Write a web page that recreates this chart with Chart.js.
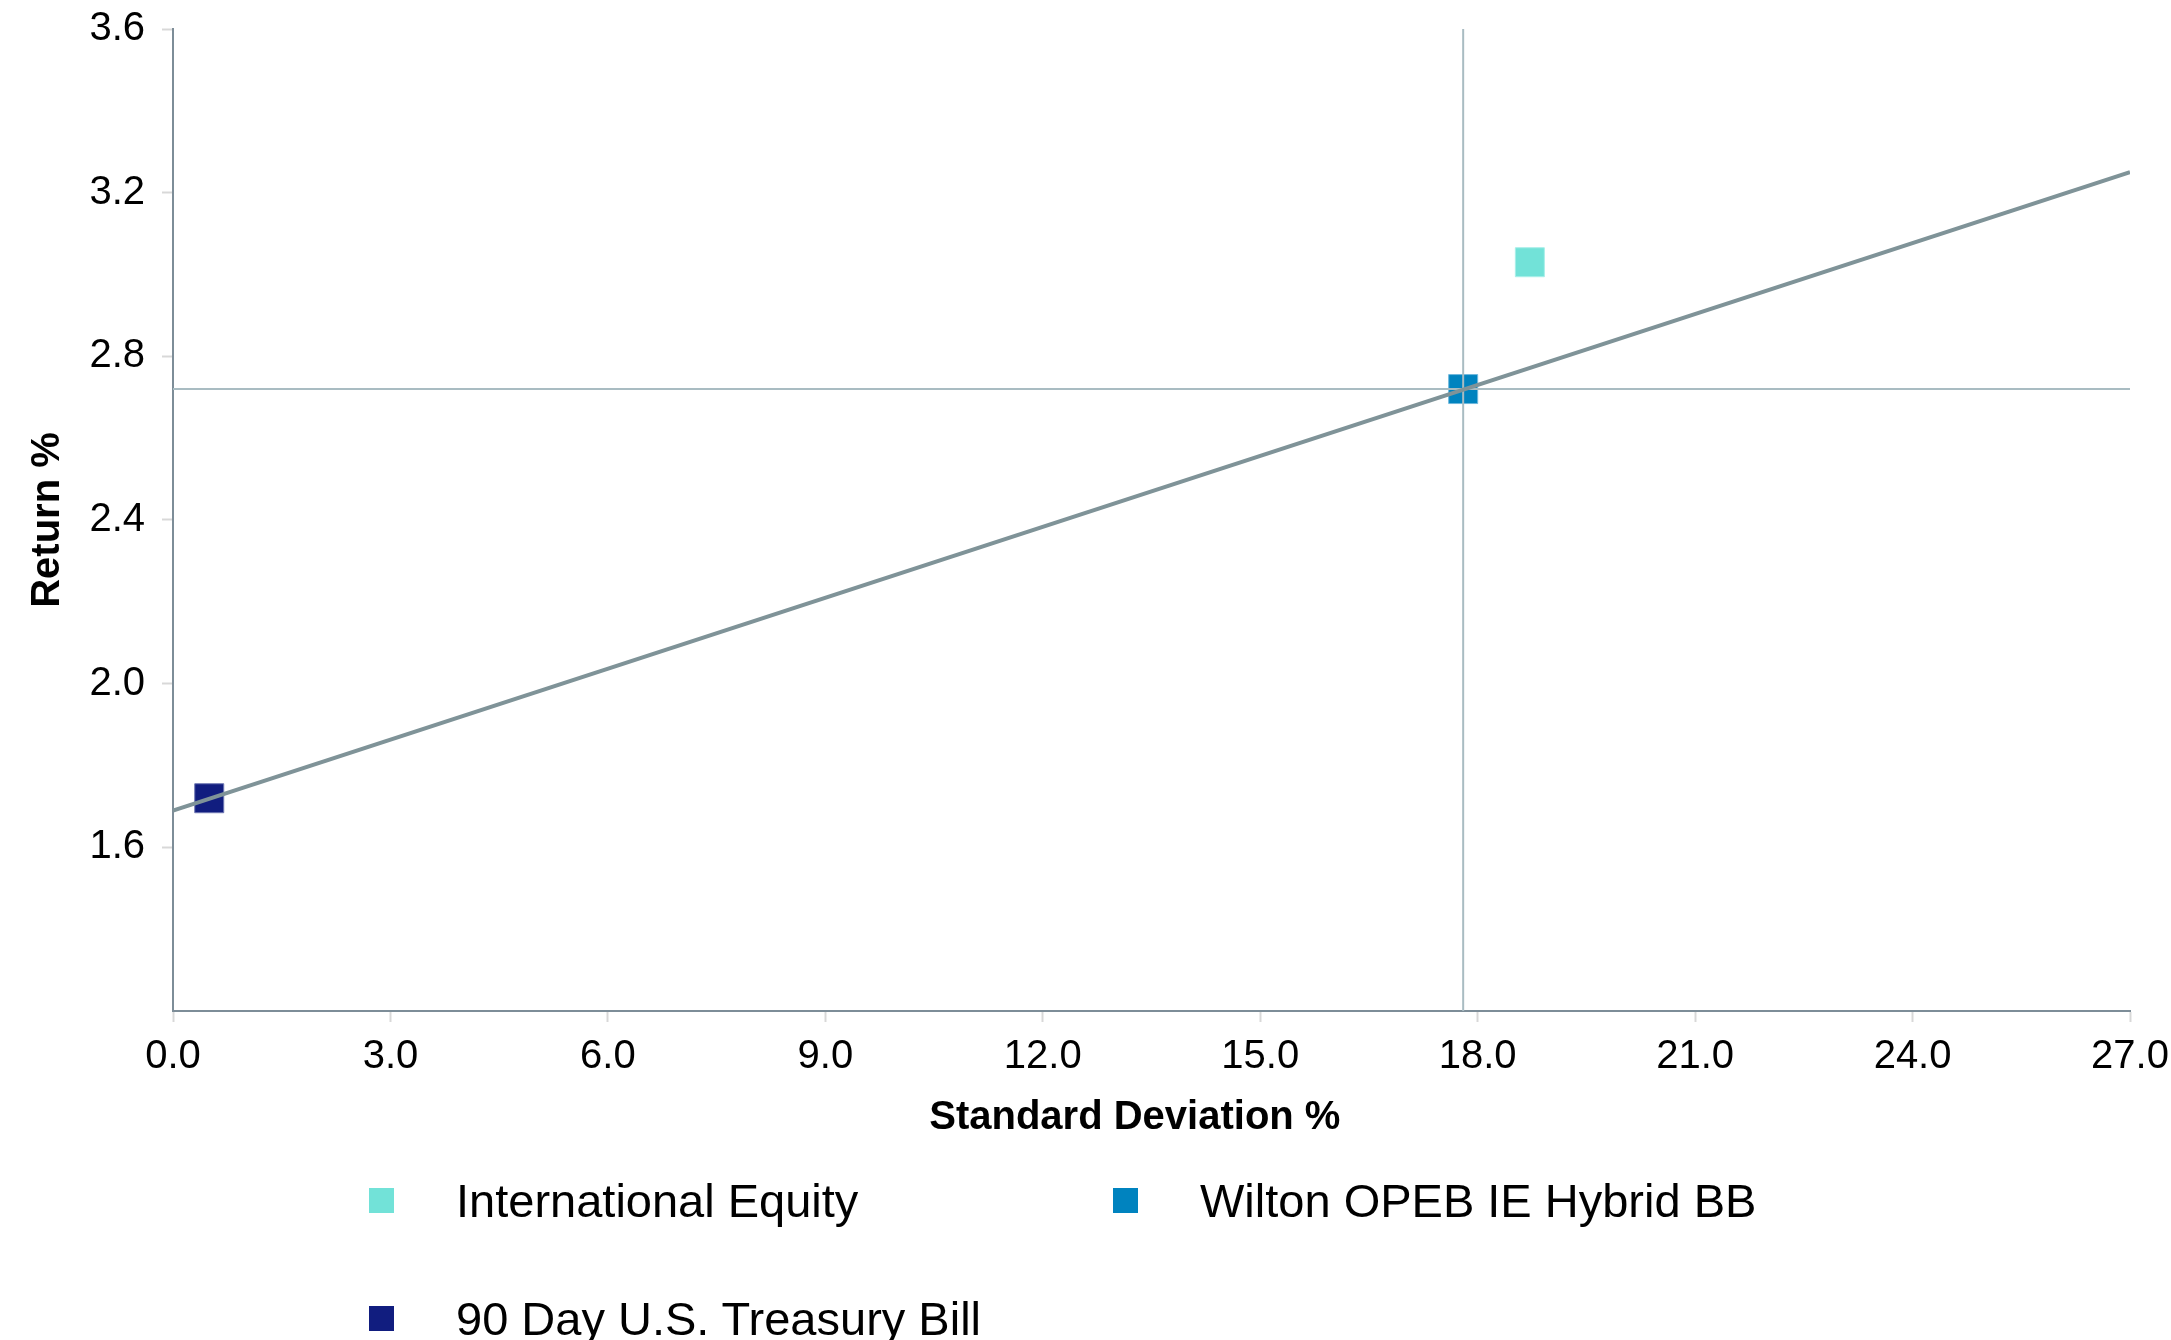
<!DOCTYPE html>
<html>
<head>
<meta charset="utf-8">
<script src="https://cdn.jsdelivr.net/npm/chart.js@4.4.1/dist/chart.umd.min.js"></script>
<style>
  html, body { margin:0; padding:0; background:#fff; }
  #wrap { position:relative; width:2171px; height:1340px; overflow:hidden; font-family:"Liberation Sans", Arial, Helvetica, sans-serif; }
  #chart { position:absolute; left:0; top:0; }
  .lg-item { position:absolute; height:60px; display:flex; align-items:center; white-space:nowrap; font-size:47px; color:#000; }
  .lg-box { width:25px; height:25px; margin-right:62px; flex:none; }
</style>
</head>
<body>
<div id="wrap">
  <canvas id="chart" width="2171" height="1340"></canvas>
  <div id="legend"></div>
</div>
<script>
/* ── Datos ── */
const seriesNames = ['International Equity', 'Wilton OPEB IE Hybrid BB', '90 Day U.S. Treasury Bill'];
const stdDev      = [18.72, 17.80, 0.50];
const returns     = [3.03, 2.72, 1.72];

// capital market line (endpoints)
const cmlX = [0, 27];
const cmlY = [1.69, 3.25];

const xMin = 0, xMax = 27, xStep = 3;
const yMin = 1.2, yMax = 3.6, yStep = 0.4;

/* ── Estilos ── */
const COLORS   = ['#72e2d8', '#0083bf', '#111d7f'];
const BORDERS  = ['#a8efe9', '#6fb8dc', '#6f77b3'];
const FONT     = '"Liberation Sans", Arial, Helvetica, sans-serif';
const AXIS_C   = '#7d8d98';
const TICK_C   = '#d8d8d8';
const CROSS_C  = '#a9bcc2';
const CML_C    = '#7f9398';

const pointSets = seriesNames.map((name, i) => ({
  label: name,
  data: [{ x: stdDev[i], y: returns[i] }],
  backgroundColor: COLORS[i],
  borderColor: BORDERS[i],
  borderWidth: 1,
  pointStyle: 'rect',
  pointRadius: 20.5,
  pointHoverRadius: 20.5,
  order: 2
}));

const lineSets = [
  { label: 'cml', data: cmlX.map((x, i) => ({ x, y: cmlY[i] })), borderColor: CML_C, borderWidth: 4 },
  { label: 'vx',  data: [{ x: stdDev[1], y: yMin }, { x: stdDev[1], y: yMax }], borderColor: CROSS_C, borderWidth: 2 },
  { label: 'hy',  data: [{ x: xMin, y: returns[1] }, { x: xMax, y: returns[1] }], borderColor: CROSS_C, borderWidth: 2 }
].map(d => ({ ...d, showLine: true, pointRadius: 0, pointHoverRadius: 0, fill: false, order: 1 }));

// fijar tamaños de ejes para que el área del gráfico caiga donde en la imagen
function fitX(s) { s.height = 131; s.paddingLeft = 0; s.paddingRight = 0; }
function fitY(s) { s.width = 173; s.paddingTop = 0; s.paddingBottom = 0; }

new Chart(document.getElementById('chart'), {
  type: 'scatter',
  data: { datasets: [...lineSets, ...pointSets] },
  options: {
    responsive: false,
    animation: false,
    devicePixelRatio: 1,
    layout: { padding: { top: 29, right: 41, bottom: 198, left: 0 } },
    plugins: { legend: { display: false }, tooltip: { enabled: false } },
    scales: {
      x: {
        type: 'linear', min: xMin, max: xMax,
        afterFit: fitX,
        border: { color: AXIS_C, width: 2 },
        grid: { drawOnChartArea: false, drawTicks: true, tickLength: 11, tickColor: TICK_C, tickWidth: 2 },
        ticks: { stepSize: xStep, padding: 11, color: '#000', font: { family: FONT, size: 40 },
                 callback: v => Number(v).toFixed(1), maxRotation: 0, autoSkip: false },
        title: { display: true, text: 'Standard Deviation %\u00a0\u00a0\u00a0', color: '#000', padding: { top: 0, bottom: 0 },
                 font: { family: FONT, size: 40, weight: 'bold' } }
      },
      y: {
        type: 'linear', min: yMin, max: yMax,
        afterFit: fitY,
        border: { color: AXIS_C, width: 2 },
        grid: { drawOnChartArea: false, drawTicks: true, tickLength: 11, tickColor: TICK_C, tickWidth: 2 },
        ticks: { stepSize: yStep, padding: 17, color: '#000', font: { family: FONT, size: 40 },
                 callback: v => Math.abs(v - yMin) < 1e-6 ? null : Number(v).toFixed(1) },
        title: { display: true, text: 'Return %', color: '#000', padding: { top: 24, bottom: 0 },
                 font: { family: FONT, size: 40, weight: 'bold' } }
      }
    }
  }
});

/* ── Leyenda ── */
const LG_POS = [[369, 1200], [1113, 1200], [369, 1318]];
document.getElementById('legend').innerHTML = seriesNames.map((n, i) => `
  <div class="lg-item" style="left:${LG_POS[i][0]}px;top:${LG_POS[i][1] - 30}px">
    <div class="lg-box" style="background:${COLORS[i]}"></div><span>${n}</span>
  </div>`).join('');
</script>
</body>
</html>
